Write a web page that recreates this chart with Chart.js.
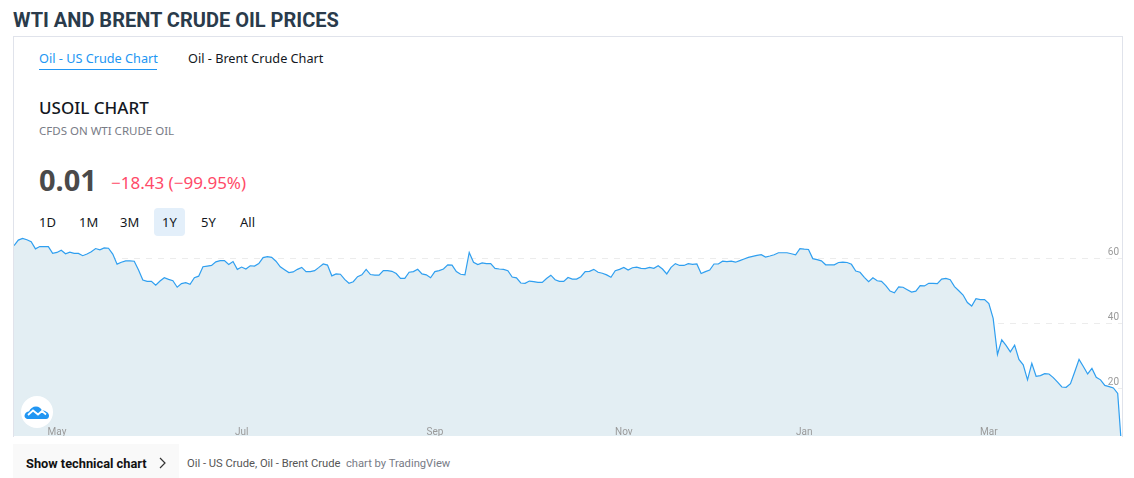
<!DOCTYPE html>
<html>
<head>
<meta charset="utf-8">
<title>WTI and Brent crude oil prices</title>
<script src="https://cdn.jsdelivr.net/npm/chart.js@4/dist/chart.umd.min.js"></script>
<style>
  html, body { margin: 0; padding: 0; background: #fff; width: 1134px; height: 478px; overflow: hidden; }
  body { position: relative; font-family: "Noto Sans", sans-serif; }
  .t { position: absolute; white-space: nowrap; line-height: 1; }
  #title { left: 13px; top: 10px; font: 700 20px Roboto, sans-serif; color: #2a3b4b; line-height: 20px; }
  #box { position: absolute; left: 13px; top: 36px; width: 1108px; height: 400px; border: 1px solid #e0e3eb; border-bottom: 0; }
  #chartWrap { position: absolute; left: 14px; top: 236px; width: 1108px; height: 200px; }
  #tabLine { position: absolute; left: 39px; top: 69px; width: 118px; height: 1px; background: #2196f3; }
  #rangeOn { position: absolute; left: 154px; top: 208px; width: 31px; height: 28px; border-radius: 4px; background: #e3effa; }
  #logo { position: absolute; left: 21px; top: 396px; width: 32px; height: 32px; border-radius: 50%; background: #fff; }
  #foot { position: absolute; left: 13px; top: 444px; width: 166px; height: 34px; background: #f9f9f9; }
</style>
</head>
<body>
<div id="title" class="t">WTI AND BRENT CRUDE OIL PRICES</div>
<div id="box"></div>
<div class="t" style="left:39px;top:52px;font-size:12.7px;color:#2196f3">Oil - US Crude Chart</div>
<div id="tabLine"></div>
<div class="t" style="left:188px;top:52px;font-size:12.7px;color:#131722">Oil - Brent Crude Chart</div>
<div class="t" style="left:39px;top:99px;font-size:17px;font-weight:500;color:#131722">USOIL CHART</div>
<div class="t" style="left:39px;top:125px;font-size:11.5px;color:#787b86">CFDS ON WTI CRUDE OIL</div>
<div class="t" style="left:39px;top:165px;font-size:29px;font-weight:700;color:#4a4a4a">0.01</div>
<div class="t" style="left:111px;top:174px;font-size:17px;color:#ff4a68">−18.43 (−99.95%)</div>
<div id="rangeOn"></div>
<div class="t" style="left:39px;top:216px;font-size:13px;color:#131722">1D</div>
<div class="t" style="left:79px;top:216px;font-size:13px;color:#131722">1M</div>
<div class="t" style="left:120px;top:216px;font-size:13px;color:#131722">3M</div>
<div class="t" style="left:162px;top:216px;font-size:13px;color:#131722">1Y</div>
<div class="t" style="left:201px;top:216px;font-size:13px;color:#131722">5Y</div>
<div class="t" style="left:240px;top:216px;font-size:13px;color:#131722">All</div>
<div id="chartWrap"><canvas id="oilChart" width="1108" height="200"></canvas></div>
<div id="logo">
  <svg width="32" height="32" viewBox="0 0 32 32">
    <path d="M6 23c-2.500-1-3-3-2-5 1-2 3-2.500 4-2.500 1-3 4-5 7-5 3 0 5 2 6 4 3 0 7 2 7 5 0 2-1 3.500-3 3.500z" fill="#2196f3"/>
    <path d="M7 19l5-4.500 5 4 4-3.500 4 3.500" fill="none" stroke="#fff" stroke-width="1.800"/>
  </svg>
</div>
<div id="foot"></div>
<div class="t" style="left:26px;top:455.5px;font:700 12.8px Roboto,sans-serif;color:#111">Show technical chart</div>
<svg style="position:absolute;left:158px;top:457px" width="10" height="12" viewBox="0 0 10 12"><path d="M2 1l5 5-5 5" fill="none" stroke="#333" stroke-width="1.2"/></svg>
<div class="t" style="left:187px;top:457px;font:11.2px Roboto,sans-serif;color:#555">Oil - US Crude, Oil - Brent Crude</div>
<div class="t" style="left:346px;top:457px;font:11.2px Roboto,sans-serif;color:#787b86">chart by TradingView</div>

<script>
// USOIL daily close
var prices = [
  63.9, 65.6, 66.1, 65.7, 65.1, 62.9, 63.6, 63.6, 63.6, 61.5, 61.8, 62.5, 61.4, 61.9, 61.5, 61.5, 60.8, 61.3, 62.0, 63.0,
  62.6, 63.2, 63.1, 61.3, 58.2, 58.8, 59.2, 59.2, 59.1, 56.4, 53.3, 52.9, 52.9, 51.7, 53.0, 54.0, 53.5, 53.1, 51.1, 52.2,
  52.5, 52.0, 54.0, 54.5, 57.4, 57.6, 57.8, 58.9, 59.3, 59.3, 58.1, 59.0, 56.6, 57.3, 56.7, 57.7, 57.6, 58.4, 60.2, 60.5,
  60.3, 59.1, 57.4, 56.5, 55.6, 55.8, 56.6,
  57.2, 55.9, 55.9, 56.2, 57.2, 58.25, 57.9, 54.6, 55.2, 55.1, 53.5, 52.3, 52.8, 54.35, 54.9, 56.6, 55.0, 54.8, 54.8, 56.2,
  56.2, 56.0, 55.3, 53.8, 53.8, 55.7, 55.9, 56.6, 55.2, 54.9, 54.0, 55.9, 56.2, 56.7, 58.0, 57.9, 55.9, 55.1, 54.9, 61.8,
  58.8, 58.1, 58.6, 58.35, 58.35, 56.9, 56.7, 56.6, 56.2, 54.25, 54.0, 52.4, 52.3, 53.0, 52.8, 52.6, 52.6, 53.8, 54.8, 53.4,
  52.9, 52.9, 54.1, 53.6, 53.6, 54.35, 55.9, 56.0,
  56.6, 55.7, 55.4, 54.9, 54.15, 56.2, 56.6, 57.2, 56.4, 57.1, 57.3, 56.9, 56.8, 57.2, 56.9, 57.7, 56.7, 55.2, 57.2, 58.35,
  57.8, 57.8, 58.35, 58.15, 58.25, 55.3, 55.9, 56.4, 58.25, 58.25, 59.1, 59.0, 59.1, 58.8, 59.3, 59.8, 60.3, 60.6, 60.9, 61.1,
  60.4, 60.7, 61.1, 61.7, 61.7, 61.7, 61.4, 61.1, 63.0, 62.8, 62.7, 59.9, 59.6, 59.2, 58.0, 58.0, 58.0, 58.7, 58.8, 58.7,
  58.15, 56.1, 55.7, 54.15, 52.8, 54.0, 53.1,
  52.9, 51.6, 49.9, 49.4, 51.2, 51.1, 50.35, 49.6, 49.9, 51.6, 51.5, 52.3, 52.3, 52.2, 53.6, 53.8, 53.4, 51.3, 50.0, 48.7,
  46.4, 45.3, 47.6, 47.3, 47.3, 46.1, 41.5, 30.4, 34.9, 33.2, 31.2, 33.3, 28.9, 27.2, 22.6, 27.7, 23.7, 23.9, 24.5, 24.4,
  23.3, 21.9, 20.4, 20.3, 21.4, 25.1, 28.9, 26.7, 24.4, 26.1, 23.4, 22.6, 20.9, 20.5, 20.1, 18.44, 0.01
];
var monthLabels = ['May', 'Jul', 'Sep', 'Nov', 'Jan', 'Mar'];
var monthIndex = [10, 53, 98, 142, 184, 227];
var priceTicks = [20, 40, 60];

// one label per trading day, empty except on the month ticks
var labels = prices.map(function (p, i) {
  var m = monthIndex.indexOf(i);
  return m >= 0 ? monthLabels[m] : '';
});

// axes sit inside the plot, so they must not take any room from it
function noRoom(scale) {
  if (scale.axis === 'x') scale.height = 0; else scale.width = 0;
  scale.paddingTop = scale.paddingBottom = scale.paddingLeft = scale.paddingRight = 0;
}

new Chart(document.getElementById('oilChart').getContext('2d'), {
  type: 'line',
  data: {
    labels: labels,
    datasets: [{
      data: prices,
      borderColor: '#2f9ff0',
      borderWidth: 1.2,
      backgroundColor: '#e3eef3',
      fill: 'start',
      pointRadius: 0,
      tension: 0
    }]
  },
  options: {
    responsive: false,
    animation: false,
    layout: { padding: 0 },
    plugins: { legend: { display: false }, tooltip: { enabled: false } },
    scales: {
      x: {
        grid: { display: false, drawTicks: false },
        border: { display: false },
        afterFit: noRoom,
        ticks: {
          // mirror keeps the labels from being clipped to the zero height axis
          autoSkip: false, maxRotation: 0, z: 1, mirror: true, padding: -2,
          color: '#9a9a9a', font: { family: 'Roboto', size: 10 }
        }
      },
      y: {
        position: 'right',
        min: 5.32,
        max: 66.86,
        afterFit: noRoom,
        afterBuildTicks: function (scale) {
          scale.ticks = priceTicks.map(function (v) { return { value: v }; });
        },
        grid: { color: '#ececec', drawTicks: false },
        border: { display: false, dash: [6, 6] },
        ticks: {
          mirror: true, z: 1, padding: -3, labelOffset: -6,
          color: '#9a9a9a', font: { family: 'Roboto', size: 10 }
        }
      }
    }
  }
});
</script>
</body>
</html>
